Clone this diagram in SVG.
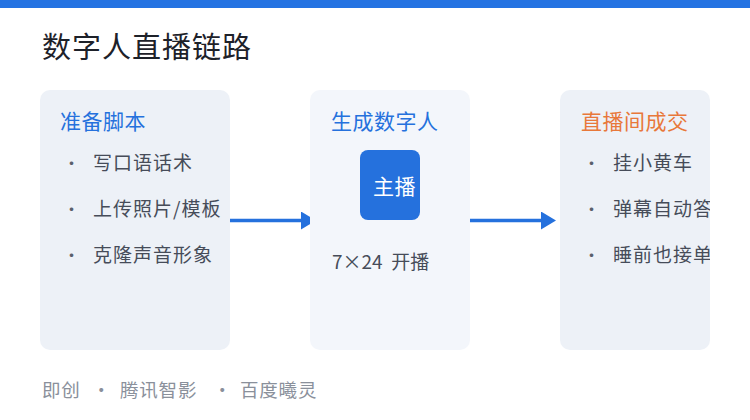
<svg xmlns="http://www.w3.org/2000/svg" width="750" height="420" viewBox="0 0 750 420">
<style>
text{font-family:"Noto Sans CJK SC","Noto Sans",sans-serif}
.card{fill:#edf1f7}
.card2{fill:#f3f6fb}
.ttl{font-size:21px;letter-spacing:0.5px}
.blue{fill:#2571dd}
.orange{fill:#e8783a}
.item{font-size:19px;letter-spacing:1px;fill:#464c59}
.dot{font-size:17px;fill:#5a606c}
.foot{font-size:18.5px;letter-spacing:0.8px;fill:#8a909b}
.conn{stroke:#2571dd;stroke-width:3.5;fill:none}
</style>
<defs>
<marker id="ah" markerUnits="userSpaceOnUse" markerWidth="15" markerHeight="18" refX="0" refY="9" orient="auto">
<path d="M0,0 L15,9 L0,18 Z" fill="#2571dd"/>
</marker>
<clipPath id="c3"><rect x="560" y="90" width="150" height="260" rx="10"/></clipPath>
</defs>
<rect width="750" height="420" fill="#ffffff"/>
<rect x="0" y="0" width="750" height="8" fill="#2573e2"/>
<text x="42" y="58" style="font-size:29px;letter-spacing:1px;fill:#1d2129">数字人直播链路</text>
<g id="connectors">
<line class="conn" x1="230" y1="220.5" x2="301" y2="220.5" marker-end="url(#ah)"/>
<line class="conn" x1="470" y1="220.5" x2="541" y2="220.5" marker-end="url(#ah)"/>
</g>
<g id="node-script">
<rect class="card" x="40" y="90" width="190" height="260" rx="10"/>
<text class="ttl blue" x="60" y="129">准备脚本</text>
<text class="dot" x="63" y="170">·</text>
<text class="item" x="93" y="170">写口语话术</text>
<text class="dot" x="63" y="216">·</text>
<text class="item" x="93" y="216">上传照片/模板</text>
<text class="dot" x="63" y="262">·</text>
<text class="item" x="93" y="262">克隆声音形象</text>
</g>
<g id="node-generate">
<rect class="card2" x="310" y="90" width="160" height="260" rx="10"/>
<text class="ttl blue" x="331" y="129">生成数字人</text>
<g id="node-anchor">
<rect x="360" y="150" width="60" height="70" rx="8" fill="#2571dd"/>
<text x="373" y="194" style="font-size:21px;letter-spacing:0.5px;fill:#ffffff">主播</text>
</g>
<text x="332" y="269" style="font-size:19px;fill:#464c59;white-space:pre">7×24  开播</text>
</g>
<g id="node-deal">
<rect class="card" x="560" y="90" width="150" height="260" rx="10"/>
<g clip-path="url(#c3)">
<text class="ttl orange" x="581" y="129">直播间成交</text>
<text class="dot" x="583" y="170">·</text>
<text class="item" x="613" y="170">挂小黄车</text>
<text class="dot" x="583" y="216">·</text>
<text class="item" x="613" y="216">弹幕自动答</text>
<text class="dot" x="583" y="262">·</text>
<text class="item" x="613" y="262">睡前也接单</text>
</g>
</g>
<g id="footer">
<text class="foot" x="42" y="397">即创</text>
<text class="foot" x="92" y="397">·</text>
<text class="foot" x="120" y="397">腾讯智影</text>
<text class="foot" x="213" y="397">·</text>
<text class="foot" x="240" y="397">百度曦灵</text>
</g>
</svg>
